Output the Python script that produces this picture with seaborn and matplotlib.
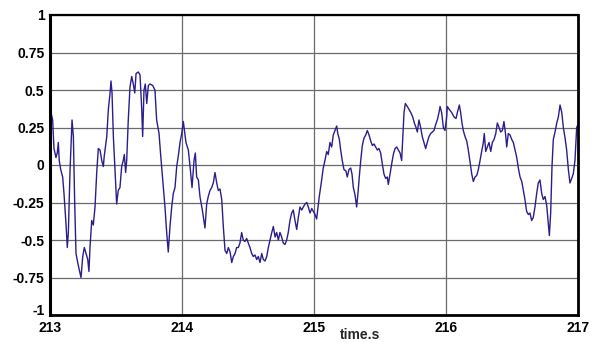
import matplotlib
matplotlib.use("Agg")
import matplotlib.pyplot as plt
import matplotlib.transforms as mtransforms
import seaborn as sns
import pandas as pd

time_s = [
    213.000, 213.020, 213.030, 213.045, 213.055, 213.063, 213.070, 213.081, 213.096, 213.106,
    213.121, 213.131, 213.139, 213.152, 213.167, 213.177, 213.187, 213.197, 213.210, 213.222,
    213.235, 213.248, 213.260, 213.273, 213.286, 213.295, 213.303, 213.316, 213.328, 213.341,
    213.354, 213.366, 213.379, 213.392, 213.404, 213.411, 213.430, 213.442, 213.455, 213.462,
    213.470, 213.480, 213.492, 213.505, 213.517, 213.530, 213.543, 213.555, 213.563, 213.573,
    213.581, 213.593, 213.606, 213.619, 213.631, 213.642, 213.652, 213.669, 213.682, 213.695,
    213.702, 213.712, 213.722, 213.733, 213.745, 213.758, 213.778, 213.795, 213.808, 213.826,
    213.839, 213.854, 213.871, 213.884, 213.896, 213.909, 213.922, 213.934, 213.947, 213.960,
    213.972, 213.985, 213.998, 214.010, 214.030, 214.048, 214.061, 214.076, 214.091, 214.101,
    214.111, 214.124, 214.136, 214.154, 214.174, 214.187, 214.199, 214.212, 214.225, 214.237,
    214.250, 214.263, 214.275, 214.288, 214.301, 214.313, 214.326, 214.339, 214.351, 214.364,
    214.377, 214.389, 214.402, 214.414, 214.427, 214.439, 214.452, 214.464, 214.477, 214.490,
    214.502, 214.515, 214.528, 214.540, 214.553, 214.566, 214.578, 214.591, 214.604, 214.616,
    214.629, 214.642, 214.654, 214.667, 214.680, 214.692, 214.705, 214.717, 214.730, 214.742,
    214.755, 214.767, 214.780, 214.793, 214.805, 214.818, 214.831, 214.843, 214.856, 214.869,
    214.881, 214.894, 214.907, 214.919, 214.932, 214.945, 214.957, 214.970, 214.983, 214.995,
    215.008, 215.020, 215.040, 215.058, 215.070, 215.083, 215.096, 215.108, 215.121, 215.134,
    215.146, 215.159, 215.172, 215.180, 215.192, 215.202, 215.214, 215.227, 215.242, 215.252,
    215.265, 215.278, 215.288, 215.298, 215.311, 215.323, 215.333, 215.343, 215.354, 215.366,
    215.379, 215.392, 215.404, 215.417, 215.430, 215.442, 215.455, 215.467, 215.480, 215.492,
    215.505, 215.517, 215.530, 215.543, 215.555, 215.563, 215.576, 215.589, 215.601, 215.614,
    215.627, 215.639, 215.652, 215.664, 215.672, 215.682, 215.692, 215.707, 215.720, 215.733,
    215.748, 215.760, 215.773, 215.783, 215.795, 215.808, 215.820, 215.833, 215.846, 215.858,
    215.871, 215.884, 215.896, 215.909, 215.922, 215.934, 215.947, 215.955, 215.967, 215.980,
    215.992, 216.005, 216.010, 216.025, 216.043, 216.061, 216.076, 216.086, 216.101, 216.111,
    216.121, 216.131, 216.144, 216.157, 216.169, 216.182, 216.195, 216.207, 216.220, 216.233,
    216.245, 216.258, 216.270, 216.283, 216.290, 216.301, 216.313, 216.326, 216.339, 216.351,
    216.364, 216.377, 216.389, 216.402, 216.414, 216.427, 216.439, 216.452, 216.460, 216.472,
    216.485, 216.498, 216.510, 216.523, 216.536, 216.548, 216.561, 216.574, 216.586, 216.598,
    216.611, 216.624, 216.636, 216.649, 216.661, 216.674, 216.687, 216.699, 216.712, 216.725,
    216.737, 216.750, 216.763, 216.775, 216.783, 216.793, 216.803, 216.813, 216.826, 216.839,
    216.851, 216.864, 216.877, 216.889, 216.902, 216.914, 216.927, 216.939, 216.952, 216.964,
    216.977, 216.990, 217.000,
]

signal = [
    0.38, 0.30, 0.11, 0.05, 0.08, 0.15, 0.03, -0.03, -0.08, -0.19,
    -0.39, -0.55, -0.45, -0.03, 0.30, 0.19, -0.25, -0.59, -0.65, -0.70,
    -0.75, -0.61, -0.55, -0.59, -0.63, -0.71, -0.55, -0.37, -0.40, -0.28,
    -0.05, 0.11, 0.10, 0.03, -0.01, 0.06, 0.19, 0.37, 0.48, 0.56,
    0.48, 0.19, -0.03, -0.26, -0.17, -0.15, -0.01, 0.03, 0.07, -0.05,
    0.03, 0.30, 0.52, 0.59, 0.54, 0.48, 0.61, 0.62, 0.60, 0.37,
    0.19, 0.50, 0.54, 0.41, 0.53, 0.54, 0.53, 0.50, 0.30, 0.21,
    0.06, -0.10, -0.28, -0.45, -0.58, -0.41, -0.28, -0.19, -0.15, -0.01,
    0.06, 0.15, 0.21, 0.29, 0.15, 0.10, -0.01, -0.15, 0.03, 0.08,
    -0.08, -0.10, -0.21, -0.30, -0.42, -0.26, -0.21, -0.17, -0.15, -0.12,
    -0.05, -0.12, -0.17, -0.16, -0.23, -0.41, -0.57, -0.59, -0.55, -0.58,
    -0.65, -0.61, -0.59, -0.55, -0.55, -0.52, -0.45, -0.50, -0.51, -0.49,
    -0.52, -0.55, -0.59, -0.61, -0.60, -0.63, -0.61, -0.65, -0.59, -0.63,
    -0.64, -0.61, -0.55, -0.50, -0.45, -0.41, -0.48, -0.45, -0.50, -0.45,
    -0.48, -0.52, -0.53, -0.50, -0.45, -0.37, -0.32, -0.30, -0.37, -0.43,
    -0.35, -0.28, -0.30, -0.28, -0.26, -0.25, -0.28, -0.32, -0.29, -0.31,
    -0.33, -0.36, -0.21, -0.10, -0.02, 0.03, 0.09, 0.07, 0.15, 0.12,
    0.20, 0.23, 0.26, 0.21, 0.17, 0.10, 0.03, -0.03, -0.04, -0.08,
    -0.03, -0.02, -0.06, -0.15, -0.20, -0.28, -0.19, -0.08, 0.03, 0.13,
    0.18, 0.20, 0.23, 0.20, 0.16, 0.13, 0.14, 0.12, 0.10, 0.11,
    0.08, 0.01, -0.06, -0.09, -0.08, -0.13, -0.06, 0.01, 0.07, 0.11,
    0.12, 0.10, 0.08, 0.03, 0.17, 0.35, 0.41, 0.39, 0.37, 0.35,
    0.32, 0.28, 0.25, 0.22, 0.30, 0.25, 0.19, 0.15, 0.11, 0.15,
    0.19, 0.21, 0.22, 0.23, 0.27, 0.30, 0.35, 0.39, 0.35, 0.25,
    0.23, 0.32, 0.39, 0.37, 0.35, 0.32, 0.31, 0.35, 0.40, 0.35,
    0.28, 0.23, 0.19, 0.16, 0.10, 0.02, -0.06, -0.11, -0.08, -0.07,
    -0.03, 0.03, 0.09, 0.15, 0.21, 0.09, 0.12, 0.15, 0.09, 0.15,
    0.17, 0.21, 0.28, 0.25, 0.22, 0.23, 0.29, 0.20, 0.12, 0.21,
    0.20, 0.17, 0.15, 0.10, 0.05, -0.02, -0.08, -0.11, -0.17, -0.23,
    -0.31, -0.33, -0.32, -0.37, -0.35, -0.28, -0.19, -0.12, -0.10, -0.19,
    -0.23, -0.21, -0.27, -0.39, -0.47, -0.32, -0.01, 0.17, 0.22, 0.28,
    0.32, 0.40, 0.35, 0.25, 0.18, 0.10, -0.03, -0.12, -0.09, -0.06,
    0.03, 0.25, 0.27,
]

x_ticks = [213, 214, 215, 216, 217]
x_tick_labels = ["213", "214", "215", "216", "217"]
y_ticks = [-1, -0.75, -0.5, -0.25, 0, 0.25, 0.5, 0.75, 1]
y_tick_labels = ["-1", "-0.75", "-0.5", "-0.25", "0", "0.25", "0.5", "0.75", "1"]
x_label = "time.s"

sns.set_theme(style="white")
plt.rcParams["font.family"] = ["Liberation Sans", "DejaVu Sans"]

df = pd.DataFrame({"time": time_s, "value": signal})

fig = plt.figure(figsize=(5.94, 3.43), dpi=100)
ax = fig.add_axes([50 / 594, 1 - 315 / 343, 528 / 594, 300 / 343])

sns.lineplot(data=df, x="time", y="value", ax=ax, color="#2a1e8c",
             linewidth=1.0, estimator=None, sort=False)

ax.set_xlim(213, 217)
ax.set_ylim(-1, 1)
ax.set_xticks(x_ticks)
ax.set_xticklabels(x_tick_labels, fontweight="bold", fontsize=10)
ax.set_yticks(y_ticks)
ax.set_yticklabels(y_tick_labels, fontweight="bold", fontsize=10)
ax.tick_params(axis="both", length=0, colors="black")
ax.tick_params(axis="x", pad=4.5)
ax.tick_params(axis="y", pad=4)

# lift the bottom y label slightly so it clears the x labels, as in the reference
lbl = ax.get_yticklabels()[0]
lbl.set_transform(lbl.get_transform() +
                  mtransforms.ScaledTranslation(0, 4 / 72, fig.dpi_scale_trans))

ax.grid(True, color="#6a6a6a", linewidth=0.9)
ax.set_axisbelow(True)

for side in ["left", "bottom", "right", "top"]:
    ax.spines[side].set_visible(True)
    ax.spines[side].set_color("black")
ax.spines["left"].set_linewidth(2.2)
ax.spines["bottom"].set_linewidth(2.0)
ax.spines["right"].set_linewidth(2.0)
ax.spines["top"].set_linewidth(1.6)

ax.set_ylabel("")
ax.set_xlabel(x_label, fontweight="bold", fontsize=10)
ax.xaxis.set_label_coords(0.587, -0.043)

fig.savefig("out.png", dpi=100, facecolor="white")
